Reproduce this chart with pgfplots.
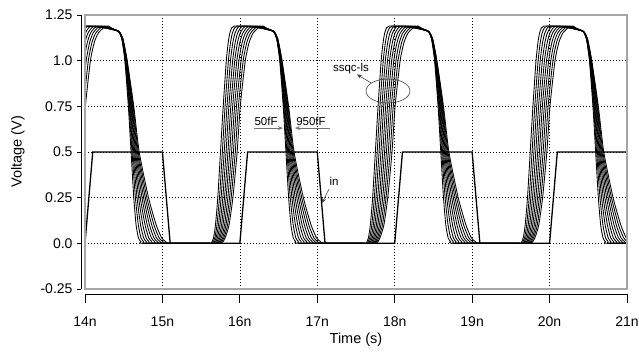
\documentclass[border=0pt]{standalone}
\usepackage{fontspec}
\setmainfont{Liberation Sans}
\usepackage{pgfplots}
\pgfplotsset{compat=1.18}
\usepackage{pgfplotstable}
\usetikzlibrary{arrows.meta}

% one period of the output family (phase relative to input rising edge), 50fF ... 950fF
\pgfplotstableread{
v     t0     t1     t2     t3     t4     t5     t6     t7     t8     t9
0     -0.400 -0.400 -0.400 -0.400 -0.400 -0.400 -0.400 -0.400 -0.400 -0.400
0     -0.370 -0.356 -0.341 -0.327 -0.312 -0.298 -0.283 -0.269 -0.254 -0.240
0.03  -0.340 -0.323 -0.307 -0.290 -0.273 -0.257 -0.240 -0.223 -0.207 -0.190
0.10  -0.315 -0.296 -0.276 -0.257 -0.237 -0.218 -0.198 -0.179 -0.159 -0.140
0.25  -0.285 -0.263 -0.242 -0.220 -0.198 -0.177 -0.155 -0.133 -0.112 -0.090
0.50  -0.250 -0.226 -0.202 -0.178 -0.154 -0.131 -0.107 -0.083 -0.059 -0.035
0.75  -0.215 -0.191 -0.166 -0.142 -0.117 -0.093 -0.068 -0.044 -0.019 0.005
1.00  -0.175 -0.148 -0.121 -0.093 -0.066 -0.039 -0.012 0.016 0.043 0.070
1.10  -0.150 -0.120 -0.090 -0.060 -0.030 0.000 0.030 0.060 0.090 0.120
1.15  -0.130 -0.097 -0.063 -0.030 0.003 0.037 0.070 0.103 0.137 0.170
1.18  -0.105 -0.067 -0.028 0.010 0.048 0.087 0.125 0.163 0.202 0.240
1.19  -0.070 -0.029 0.012 0.053 0.094 0.136 0.177 0.218 0.259 0.300
1.185 0.150 0.169 0.188 0.207 0.226 0.244 0.263 0.282 0.301 0.320
1.175 0.300 0.307 0.313 0.320 0.327 0.333 0.340 0.347 0.353 0.360
1.16  0.430 0.431 0.432 0.433 0.434 0.436 0.437 0.438 0.439 0.440
1.12  0.475 0.477 0.478 0.480 0.482 0.483 0.485 0.487 0.488 0.490
1.00  0.515 0.518 0.522 0.525 0.528 0.532 0.535 0.538 0.542 0.545
0.75  0.560 0.568 0.576 0.583 0.591 0.599 0.607 0.614 0.622 0.630
0.50  0.595 0.607 0.618 0.630 0.642 0.653 0.665 0.677 0.688 0.700
0.25  0.630 0.651 0.672 0.693 0.714 0.736 0.757 0.778 0.799 0.820
0.10  0.660 0.689 0.718 0.747 0.776 0.804 0.833 0.862 0.891 0.920
0.03  0.690 0.723 0.757 0.790 0.823 0.857 0.890 0.923 0.957 0.990
0.01  0.720 0.756 0.791 0.827 0.862 0.898 0.933 0.969 1.004 1.040
0     0.760 0.798 0.836 0.873 0.911 0.949 0.987 1.024 1.062 1.100
0     1.600 1.600 1.600 1.600 1.600 1.600 1.600 1.600 1.600 1.600
}\outtab

\begin{document}
\begin{tikzpicture}
\begin{axis}[
  width=542pt, height=274pt, scale only axis,
  xmin=14, xmax=21, ymin=-0.25, ymax=1.25,
  axis line style={draw=none},
  xtick={14,15,...,21},
  xticklabels={14n,15n,16n,17n,18n,19n,20n,21n},
  ytick={-0.25,0,0.25,0.5,0.75,1,1.25},
  yticklabels={-0.25,0.0,0.25,0.5,0.75,1.0,1.25},
  major tick length=0pt,
  tick style={draw=none},
  grid=major,
  grid style={black, line width=0.5pt, dash pattern=on 1pt off 2pt},
  xticklabel style={font=\fontsize{14}{16}\selectfont, yshift=-24pt},
  yticklabel style={font=\fontsize{14}{16}\selectfont, xshift=-9pt},
  xlabel={Time (s)}, ylabel={Voltage (V)},
  every axis x label/.style={at={(rel axis cs:0.5,0)}, yshift=-51pt, anchor=center, font=\fontsize{14.5}{16}\selectfont},
  every axis y label/.style={at={(rel axis cs:0,0.5)}, xshift=-67pt, rotate=90, anchor=center, font=\fontsize{14.5}{16}\selectfont},
  clip=true,
]
\foreach \k in {0,...,9}{
  \foreach \o in {14,16,18,20}{
    \edef\temp{\noexpand\addplot[black, line width=0.85pt, no markers, smooth, tension=0.35]
      table[x expr=\noexpand\thisrow{t\k}+\o, y=v]{\noexpand\outtab};}
    \temp
  }
}
\addplot[black, line width=1.3pt, no markers] coordinates {
(14,0) (14.1,0.5) (15,0.5) (15.1,0) (16,0) (16.1,0.5) (17,0.5) (17.1,0)
(18,0) (18.1,0.5) (19,0.5) (19.1,0) (20,0) (20.1,0.5) (21,0.5)};

% annotations
\node[font=\fontsize{11.5}{13}\selectfont] at (axis cs:17.435,0.955) {ssqc-ls};
\draw[black!75, line width=0.6pt] (axis cs:17.913,0.834) ellipse [x radius=22pt, y radius=12pt];
\draw[black!75, line width=0.6pt, -{Stealth[length=5pt,width=4pt]}] (axis cs:17.694,0.878) -- (axis cs:17.513,0.925);
\node[font=\fontsize{11.5}{13}\selectfont] at (axis cs:16.338,0.668) {50fF};
\draw[black!55, line width=0.9pt, -{Stealth[length=5pt,width=4pt]}] (axis cs:16.183,0.631) -- (axis cs:16.557,0.631);
\node[font=\fontsize{11.5}{13}\selectfont] at (axis cs:16.919,0.668) {950fF};
\draw[black!55, line width=0.9pt, -{Stealth[length=5pt,width=4pt]}] (axis cs:17.164,0.631) -- (axis cs:16.712,0.631);
\node[font=\fontsize{11.5}{13}\selectfont] at (axis cs:17.216,0.34) {in};
\draw[black!75, line width=0.6pt, -{Stealth[length=5pt,width=4pt]}] (axis cs:17.151,0.297) -- (axis cs:17.061,0.221);
\end{axis}
% frame
\draw[gray!70, line width=1.1pt] (current axis.south west) rectangle (current axis.north east);
% detached axis lines with ticks
\draw[black, line width=0.9pt] ([yshift=-5pt]current axis.south west) -- ([yshift=-5pt]current axis.south east);
\foreach \i in {0,...,7}{
  \draw[black, line width=0.9pt] ([xshift=\i*542pt/7, yshift=-5pt]current axis.south west) -- ++(0,-9pt);
}
\draw[black, line width=0.9pt] ([xshift=-4pt]current axis.south west) -- ([xshift=-4pt]current axis.north west);
\foreach \i in {0,...,6}{
  \draw[black, line width=0.9pt] ([xshift=-4pt, yshift=\i*274pt/6]current axis.south west) -- ++(-4pt,0);
}
\pgfresetboundingbox
\path[use as bounding box] ([xshift=-85pt,yshift=-63pt]current axis.south west) rectangle ([xshift=12pt,yshift=15pt]current axis.north east);
\end{tikzpicture}
\end{document}
